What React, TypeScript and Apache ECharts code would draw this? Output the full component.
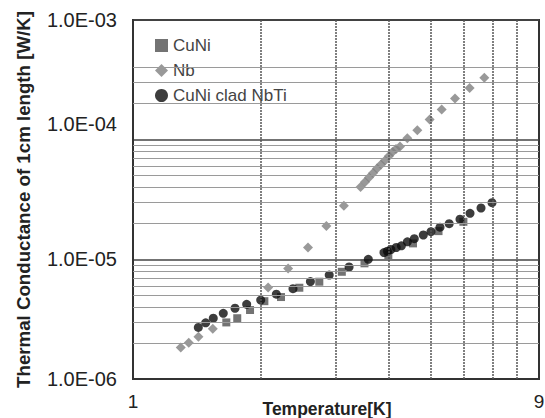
import React, { useEffect, useRef } from "react";
import * as echarts from "echarts";

// ---- data ----
const cuniT = [1.657, 1.758, 1.884, 2.036, 2.228, 2.46, 2.741, 3.096, 3.5, 3.982, 4.551, 5.225, 5.978];
const cuniK = [2.97e-6, 3.22e-6, 3.77e-6, 4.47e-6, 4.84e-6, 5.79e-6, 6.5e-6, 7.87e-6, 9.26e-6, 1.087e-5, 1.359e-5, 1.721e-5, 2.059e-5];

const nbT = [1.295, 1.352, 1.425, 1.54, 2.078, 2.315, 2.578, 2.848, 3.131, 3.427, 3.51, 3.587, 3.666, 3.745, 3.827, 3.911, 3.997, 4.073, 4.151, 4.242, 4.413, 4.658, 4.979, 5.316, 5.712, 6.182, 6.694];
const nbK = [1.83e-6, 2.01e-6, 2.26e-6, 2.63e-6, 5.82e-6, 8.38e-6, 1.256e-5, 1.9e-5, 2.81e-5, 4.02e-5, 4.43e-5, 4.83e-5, 5.27e-5, 5.74e-5, 6.2e-5, 6.7e-5, 7.3e-5, 7.89e-5, 8.35e-5, 8.77e-5, 1.027e-4, 1.197e-4, 1.471e-4, 1.783e-4, 2.203e-4, 2.702e-4, 3.294e-4];

const cladT = [1.424, 1.482, 1.544, 1.63, 1.737, 1.85, 1.996, 2.172, 2.377, 2.612, 2.892, 3.22, 3.573, 3.89, 3.962, 4.038, 4.156, 4.274, 4.415, 4.583, 4.812, 5.016, 5.267, 5.535, 5.869, 6.196, 6.576, 6.979];
const cladK = [2.7e-6, 2.95e-6, 3.22e-6, 3.54e-6, 3.9e-6, 4.21e-6, 4.57e-6, 5.11e-6, 5.69e-6, 6.52e-6, 7.38e-6, 8.63e-6, 1.0e-5, 1.14e-5, 1.169e-5, 1.208e-5, 1.256e-5, 1.298e-5, 1.401e-5, 1.487e-5, 1.597e-5, 1.702e-5, 1.856e-5, 1.985e-5, 2.164e-5, 2.424e-5, 2.685e-5, 2.973e-5];

const seriesNames = ["CuNi", "Nb", "CuNi clad NbTi"];
const xTickLabels: Record<number, string> = { 1: "1", 9: "9" };
const yTickLabels: Record<number, string> = { [-6]: "1.0E-06", [-5]: "1.0E-05", [-4]: "1.0E-04", [-3]: "1.0E-03" };
const xMin = 1;
const xMax = 9;
const xGridValues = [2, 3, 4, 5, 6, 7, 8];
const yMinorGridValues = [
  2e-6, 3e-6, 4e-6, 5e-6, 6e-6, 7e-6, 8e-6, 9e-6,
  2e-5, 3e-5, 4e-5, 5e-5, 6e-5, 7e-5, 8e-5, 9e-5,
  2e-4, 3e-4, 4e-4,
];

const FONT = "'Liberation Sans', Arial, sans-serif";

const zip = (a: number[], b: number[]) => a.map((v, i) => [v, b[i]]);

export default function App() {
  const ref = useRef<HTMLDivElement>(null);
  useEffect(() => {
    if (!ref.current) return;
    const chart = echarts.init(ref.current, undefined, { renderer: "svg" });
    const option: any = {
      animation: false,
      backgroundColor: "#fff",
      grid: {
        left: 133,
        right: 6,
        top: 20,
        bottom: 39,
        show: true,
        borderColor: "#333",
        borderWidth: 2,
        containLabel: false,
        outerBoundsMode: "none",
      },
      legend: {
        orient: "vertical",
        left: 145,
        top: 27,
        padding: [10, 43, 31, 10],
        backgroundColor: "#fff",
        itemWidth: 13,
        itemHeight: 13,
        itemGap: 8,
        textStyle: { fontSize: 17, color: "#444", fontFamily: FONT, lineHeight: 17 },
        data: [
          { name: seriesNames[0], icon: "rect" },
          { name: seriesNames[1], icon: "diamond" },
          { name: seriesNames[2], icon: "circle" },
        ],
      },
      xAxis: {
        type: "log",
        logBase: 9,
        min: xMin,
        max: xMax,
        axisLine: { show: true, lineStyle: { color: "#333", width: 2 } },
        axisTick: { show: false },
        splitLine: { show: false },
        axisLabel: {
          fontSize: 19,
          color: "#222",
          fontFamily: FONT,
          margin: 13,
          formatter: (v: number) => xTickLabels[Math.round(v)] ?? "",
        },
        name: "Temperature[K]",
        nameLocation: "middle",
        nameGap: 21,
        nameMoveOverlap: false,
        nameTextStyle: { fontSize: 17.5, fontWeight: "bold", color: "#222", fontFamily: FONT, padding: [0, 18, 0, 0] },
      },
      yAxis: {
        type: "log",
        logBase: 10,
        min: 1e-6,
        max: 1e-3,
        axisLine: { show: true, lineStyle: { color: "#333", width: 2 } },
        axisTick: { show: false },
        splitLine: { show: true, lineStyle: { color: "#444", width: 1.5 } },
        axisLabel: {
          fontSize: 20,
          color: "#222",
          fontFamily: FONT,
          margin: 16,
          formatter: (v: number) => {
            const e = Math.round(Math.log10(v));
            const t = yTickLabels[e] ?? "";
            return e === -4 ? "{hi|" + t + "}" : t;
          },
          rich: { hi: { fontSize: 20, color: "#222", fontFamily: FONT, padding: [0, 0, 32, 0] } },
        },
        name: "Thermal Conductance of 1cm length [W/K]",
        nameLocation: "middle",
        nameGap: 100,
        nameMoveOverlap: false,
        nameRotate: 90,
        nameTextStyle: { fontSize: 18.7, fontWeight: "bold", color: "#222", fontFamily: FONT },
      },
      series: [
        {
          name: "_hgrid",
          type: "scatter",
          data: [],
          silent: true,
          z: 1,
          markLine: {
            silent: true,
            symbol: ["none", "none"],
            label: { show: false },
            lineStyle: { color: "#9a9a9a", width: 1.2, type: "solid" },
            data: yMinorGridValues.map((y) => [{ coord: [xMin, y] }, { coord: [xMax, y] }]),
          },
        },
        {
          name: "_vgrid",
          type: "scatter",
          data: [],
          silent: true,
          z: 1,
          markLine: {
            silent: true,
            symbol: ["none", "none"],
            label: { show: false },
            lineStyle: { color: "#555", width: 1.5, type: [2, 1] },
            data: xGridValues.map((x) => ({ xAxis: x })),
          },
        },
        {
          name: seriesNames[0],
          type: "scatter",
          symbol: "rect",
          symbolSize: 8,
          itemStyle: { color: "#505050" },
          data: zip(cuniT, cuniK),
          z: 3,
        },
        {
          name: seriesNames[1],
          type: "scatter",
          symbol: "diamond",
          symbolSize: 10,
          itemStyle: { color: "#808080" },
          data: zip(nbT, nbK),
          z: 3,
        },
        {
          name: seriesNames[2],
          type: "scatter",
          symbol: "circle",
          symbolSize: 9,
          itemStyle: { color: "#0d0d0d" },
          data: zip(cladT, cladK),
          z: 3,
        },
      ],
    };
    chart.setOption(option);
    return () => chart.dispose();
  }, []);
  return (
    <div
      ref={ref}
      style={{ position: "fixed", left: 0, top: 0, width: 545, height: 418, background: "#fff" }}
    />
  );
}
